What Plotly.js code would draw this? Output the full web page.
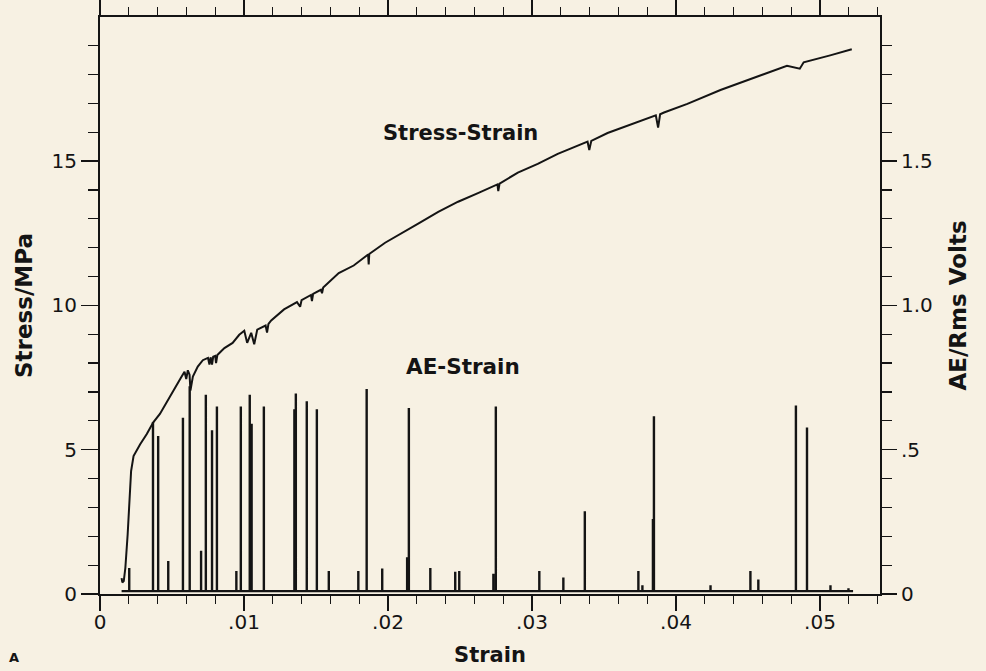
<!DOCTYPE html>
<html>
<head>
<meta charset="utf-8">
<script src="https://cdn.plot.ly/plotly-3.0.1.min.js"></script>
<style>
html,body{margin:0;padding:0;background:rgb(247,241,227);}
#chart{width:986px;height:671px;}
</style>
</head>
<body>
<div id="chart"></div>
<script>
// Stress–strain curve (strain, MPa)
const stressStrain = [0.00150,0.00155,0.00165,0.00176,0.00192,0.00208,0.00216,0.00233,0.00279,0.00325,0.00370,0.00416,0.00462,0.00507,0.00565,0.00587,0.00599,0.00610,0.00622,0.00628,0.00638,0.00645,0.00679,0.00714,0.00750,0.00760,0.00768,0.00778,0.00786,0.00800,0.00806,0.00815,0.00829,0.00864,0.00921,0.00967,0.01002,0.01022,0.01050,0.01071,0.01092,0.01150,0.01160,0.01170,0.01189,0.01278,0.01368,0.01390,0.01400,0.01465,0.01472,0.01480,0.01534,0.01542,0.01550,0.01658,0.01762,0.01862,0.01866,0.01870,0.01980,0.02153,0.02210,0.02349,0.02487,0.02625,0.02760,0.02766,0.02775,0.02902,0.03040,0.03179,0.03386,0.03398,0.03412,0.03525,0.03663,0.03730,0.03860,0.03876,0.03890,0.03917,0.04079,0.04309,0.04540,0.04771,0.04860,0.04887,0.05071,0.05221];
const stressMPa = [0.55,0.40,0.45,0.90,2.06,3.45,4.26,4.78,5.19,5.54,5.95,6.24,6.65,7.00,7.52,7.70,7.45,7.75,7.60,7.05,7.35,7.53,7.88,8.10,8.18,7.95,8.20,7.95,8.22,8.25,8.00,8.28,8.35,8.52,8.70,8.98,9.12,8.70,9.05,8.65,9.16,9.30,9.06,9.36,9.48,9.86,10.11,9.95,10.18,10.36,10.15,10.40,10.54,10.42,10.62,11.12,11.38,11.76,11.42,11.78,12.17,12.65,12.83,13.24,13.59,13.89,14.19,13.96,14.22,14.60,14.90,15.25,15.67,15.38,15.70,15.97,16.21,16.33,16.58,16.16,16.62,16.68,16.98,17.46,17.88,18.30,18.20,18.42,18.66,18.87];

// AE events (strain, volts)
const aeStrain = [0.00203,0.00368,0.00404,0.00474,0.00576,0.00623,0.00702,0.00735,0.00778,0.00812,0.00947,0.00978,0.01040,0.01053,0.01138,0.01350,0.01360,0.01436,0.01506,0.01589,0.01794,0.01852,0.01960,0.02133,0.02145,0.02294,0.02467,0.02495,0.02732,0.02749,0.03051,0.03218,0.03367,0.03739,0.03767,0.03840,0.03847,0.04240,0.04517,0.04572,0.04833,0.04910,0.05073,0.05198];
const aeVolts = [0.09,0.596,0.547,0.114,0.611,0.72,0.15,0.69,0.567,0.65,0.08,0.65,0.69,0.59,0.65,0.64,0.695,0.668,0.64,0.08,0.08,0.71,0.088,0.127,0.644,0.09,0.077,0.08,0.07,0.65,0.08,0.057,0.287,0.08,0.03,0.26,0.616,0.03,0.08,0.05,0.653,0.577,0.03,0.02];
const aeBase = 0.01, aeStart = 0.00150, aeEnd = 0.05230;

// Tick labels
const xTickVals = [0,0.01,0.02,0.03,0.04,0.05];
const xTickText = ['0','.01','.02','.03','.04','.05'];
const yTickVals = [0,5,10,15];
const yTickText = ['0','5','10','15'];
const y2TickVals = [0,0.5,1.0,1.5];
const y2TickText = ['0','.5','1.0','1.5'];

const minorX = []; for (let i=1;i<=27;i++){ if(i%5!==0) minorX.push(+(i*0.002).toFixed(4)); }
const minorY = []; for (let i=1;i<=19;i++){ if(i%5!==0) minorY.push(i); }
const minorY2 = []; for (let i=1;i<=19;i++){ if(i%5!==0) minorY2.push(+(i*0.1).toFixed(2)); }

// Build AE spike polyline from event arrays
const aeX=[aeStart], aeY=[aeBase];
for (let i=0;i<aeStrain.length;i++){ aeX.push(aeStrain[i],aeStrain[i],aeStrain[i]); aeY.push(aeBase,aeVolts[i],aeBase); }
aeX.push(aeEnd); aeY.push(aeBase);

const ink = '#141414';
const bg = 'rgb(247,241,227)';
const tickFont = {family:'DejaVu Sans', size:20, color:ink};
const titleFont = {family:'DejaVu Sans', size:23, color:ink, weight:'bold'};

const traces = [
  {x:stressStrain, y:stressMPa, type:'scatter', mode:'lines', line:{color:ink, width:2}, yaxis:'y', hoverinfo:'skip'},
  {x:aeX, y:aeY, type:'scatter', mode:'lines', line:{color:ink, width:2.4}, yaxis:'y2', hoverinfo:'skip'}
];

const layout = {
  width:986, height:671,
  margin:{l:100, r:106, t:17, b:77},
  paper_bgcolor:bg, plot_bgcolor:bg,
  showlegend:false,
  xaxis:{range:[0,0.05417], tickmode:'array', tickvals:xTickVals, ticktext:xTickText,
    ticks:'outside', ticklen:15, tickwidth:1.5, tickcolor:ink, ticklabelstandoff:-6,
    showline:true, linewidth:2, linecolor:ink, mirror:'ticks',
    showgrid:false, zeroline:false, tickfont:tickFont,
    minor:{tickmode:'array', tickvals:minorX, ticks:'outside', ticklen:8, tickwidth:1.2, tickcolor:ink, showgrid:false},
    title:{text:'Strain', font:{family:'DejaVu Sans', size:21, color:ink, weight:'bold'}, standoff:14}},
  yaxis:{range:[0,19.99], tickmode:'array', tickvals:yTickVals, ticktext:yTickText,
    ticks:'outside', ticklen:17, tickwidth:1.5, tickcolor:ink,
    showline:true, linewidth:2, linecolor:ink,
    showgrid:false, zeroline:false, tickfont:tickFont,
    minor:{tickmode:'array', tickvals:minorY, ticks:'outside', ticklen:10, tickwidth:1.2, tickcolor:ink, showgrid:false},
    title:{text:'Stress/MPa', font:titleFont, standoff:12}},
  yaxis2:{overlaying:'y', side:'right', range:[0,1.999], tickmode:'array', tickvals:y2TickVals, ticktext:y2TickText,
    ticks:'outside', ticklen:15, tickwidth:1.5, tickcolor:ink,
    showline:true, linewidth:2, linecolor:ink,
    showgrid:false, zeroline:false, tickfont:tickFont,
    minor:{tickmode:'array', tickvals:minorY2, ticks:'outside', ticklen:10, tickwidth:1.2, tickcolor:ink, showgrid:false},
    title:{text:'AE/Rms Volts', font:titleFont, standoff:18}},
  annotations:[
    {text:'Stress-Strain', xref:'paper', yref:'paper', x:0.4628, y:0.799, showarrow:false, xanchor:'center', yanchor:'middle', font:{family:'DejaVu Sans', size:21, color:ink, weight:'bold'}},
    {text:'AE-Strain', xref:'paper', yref:'paper', x:0.4654, y:0.395, showarrow:false, xanchor:'center', yanchor:'middle', font:{family:'DejaVu Sans', size:21.5, color:ink, weight:'bold'}},
    {text:'A', xref:'paper', yref:'paper', x:-0.110, y:-0.094, showarrow:false, xanchor:'center', yanchor:'top', font:{family:'DejaVu Sans', size:13, color:ink, weight:'bold'}}
  ]
};

Plotly.newPlot('chart', traces, layout, {staticPlot:true, displayModeBar:false});
</script>
</body>
</html>
